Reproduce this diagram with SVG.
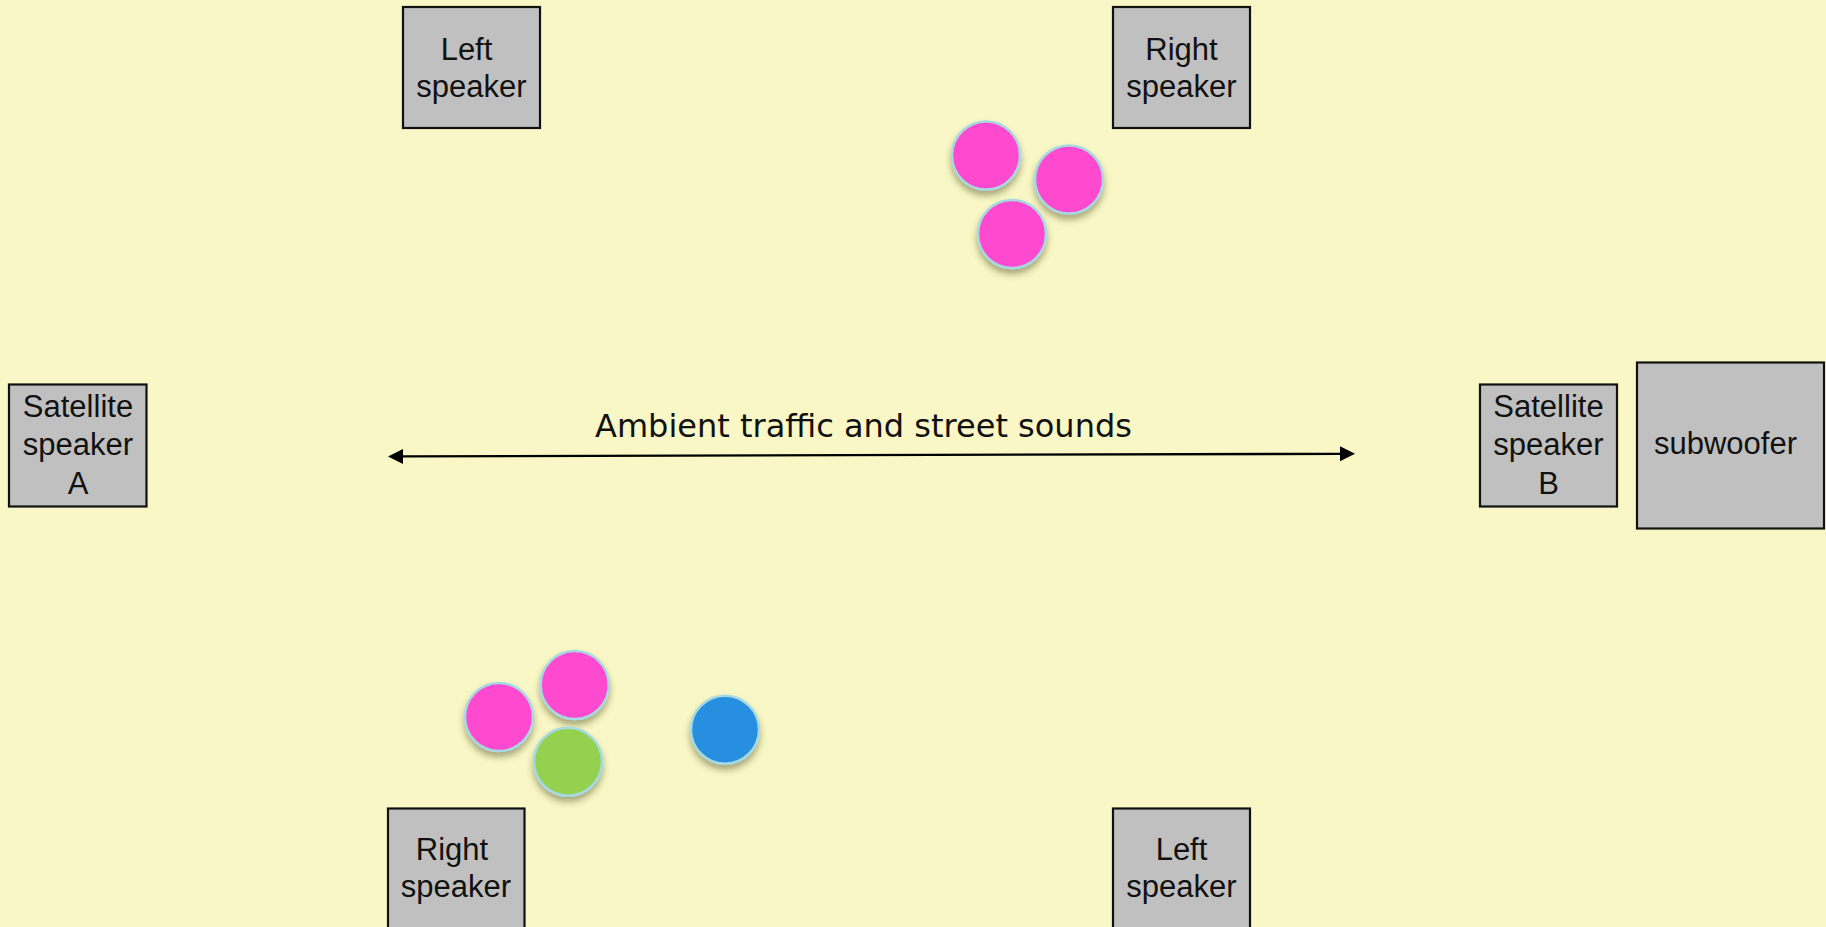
<svg xmlns="http://www.w3.org/2000/svg" width="1826" height="927" viewBox="0 0 1826 927">
  <style>
    .box { fill: #C0C0C0; stroke: #111111; stroke-width: 2.2; }
    .lbl { font-family: "Liberation Sans", Arial, Helvetica, sans-serif; font-size: 31px; fill: #111111; text-anchor: middle; }
    .amb { font-family: "DejaVu Sans", Verdana, sans-serif; font-size: 32px; fill: #111111; }
    .dot { stroke: #A6D9E2; stroke-width: 2.5; filter: url(#shadow); }
    .pink { fill: #FF48CF; }
    .green { fill: #94D150; }
    .blue { fill: #258FE0; }
    .conn { fill: none; stroke: #000000; stroke-width: 2.3; }
  </style>
  <defs>
    <filter id="shadow" x="-30%" y="-30%" width="160%" height="170%">
      <feDropShadow dx="0" dy="5" stdDeviation="3" flood-color="#4a4a20" flood-opacity="0.45"/>
    </filter>
    <marker id="head" markerUnits="userSpaceOnUse" markerWidth="16" markerHeight="16" refX="0" refY="7.5" orient="auto-start-reverse" viewBox="0 0 16 16">
      <path d="M0,0 L15,7.5 L0,15 z" fill="#000000"/>
    </marker>
  </defs>

  <rect x="0" y="0" width="1826" height="927" fill="#F8F7C5"/>

  <g id="left-speaker-top">
    <rect class="box" x="403" y="7" width="137" height="121"/>
    <text class="lbl" x="466.5" y="59.5">Left</text>
    <text class="lbl" x="471.5" y="97">speaker</text>
  </g>

  <g id="right-speaker-top">
    <rect class="box" x="1113" y="7" width="137" height="121"/>
    <text class="lbl" x="1181.5" y="59.5">Right</text>
    <text class="lbl" x="1181.5" y="97">speaker</text>
  </g>

  <g id="satellite-a">
    <rect class="box" x="9" y="384.5" width="137.5" height="122"/>
    <text class="lbl" x="78" y="416.7">Satellite</text>
    <text class="lbl" x="78" y="454.5">speaker</text>
    <text class="lbl" x="78" y="494">A</text>
  </g>

  <g id="satellite-b">
    <rect class="box" x="1480" y="384.5" width="137" height="122"/>
    <text class="lbl" x="1548.5" y="416.7">Satellite</text>
    <text class="lbl" x="1548.5" y="454.5">speaker</text>
    <text class="lbl" x="1548.5" y="494">B</text>
  </g>

  <g id="subwoofer">
    <rect class="box" x="1637" y="362.5" width="187" height="166"/>
    <text class="lbl" x="1725.5" y="454">subwoofer</text>
  </g>

  <g id="right-speaker-bottom">
    <rect class="box" x="388" y="808.5" width="136.5" height="130"/>
    <text class="lbl" x="452" y="860">Right</text>
    <text class="lbl" x="456" y="897.3">speaker</text>
  </g>

  <g id="left-speaker-bottom">
    <rect class="box" x="1113" y="808.5" width="137" height="130"/>
    <text class="lbl" x="1181.5" y="860">Left</text>
    <text class="lbl" x="1181.5" y="897.3">speaker</text>
  </g>

  <g id="people-top">
    <circle class="dot pink" cx="986" cy="155.5" r="34"/>
    <circle class="dot pink" cx="1069" cy="179.5" r="34"/>
    <circle class="dot pink" cx="1012" cy="234" r="34"/>
  </g>

  <g id="people-bottom">
    <circle class="dot pink" cx="499" cy="717" r="34"/>
    <circle class="dot pink" cx="574.7" cy="685" r="34"/>
    <circle class="dot green" cx="568" cy="761.7" r="34"/>
    <circle class="dot blue" cx="725" cy="729.7" r="34"/>
  </g>

  <g id="connectors">
    <path class="conn" d="M403,456.4 L1340,453.8" marker-start="url(#head)" marker-end="url(#head)"/>
  </g>

  <g id="ambient-label">
    <text class="amb" x="595" y="437.3">Ambient traffic and street sounds</text>
  </g>
</svg>
